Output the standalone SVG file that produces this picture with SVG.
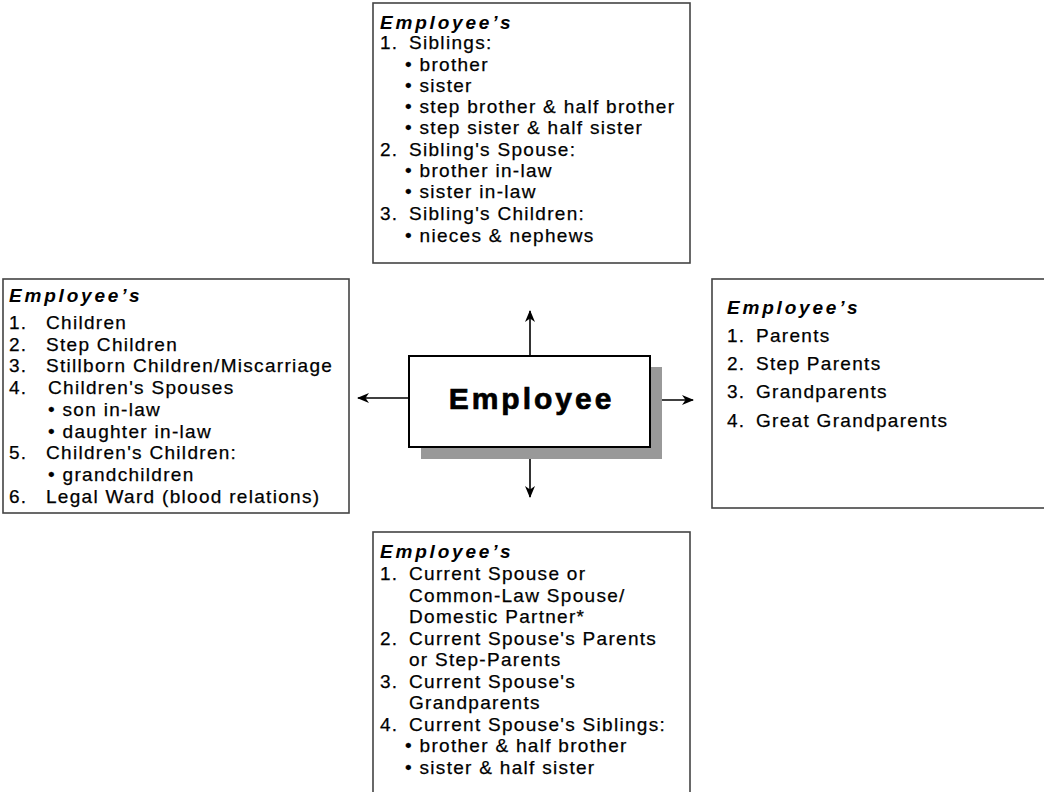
<svg xmlns="http://www.w3.org/2000/svg" width="1044" height="792" viewBox="0 0 1044 792">
<style>
.box{fill:#fff;stroke:#444;stroke-width:1.6}
.t{font-family:"Liberation Sans",Arial,sans-serif;font-size:19px;letter-spacing:1.3px;fill:#000;stroke:#000;stroke-width:0.25}
.h{font-family:"Liberation Sans",Arial,sans-serif;font-size:19px;font-weight:bold;font-style:italic;letter-spacing:2.8px;fill:#000}
.big{font-family:"Liberation Sans",Arial,sans-serif;font-size:30px;font-weight:bold;letter-spacing:3px;fill:#000;stroke:#000;stroke-width:0.7}
.c{stroke:#000;stroke-width:1.6;fill:none}
</style>
<defs>
<marker id="ah" viewBox="0 0 12 10" refX="11" refY="5" markerWidth="12" markerHeight="10" markerUnits="userSpaceOnUse" orient="auto">
<path d="M0,0 L12,5 L0,10 L3.5,5 Z" fill="#000"/>
</marker>
</defs>
<g id="connectors">
<line class="c" x1="530" y1="356" x2="530" y2="311" marker-end="url(#ah)"/>
<line class="c" x1="530" y1="447" x2="530" y2="497" marker-end="url(#ah)"/>
<line class="c" x1="409" y1="398" x2="358" y2="398" marker-end="url(#ah)"/>
<line class="c" x1="650" y1="400" x2="693" y2="400" marker-end="url(#ah)"/>
</g>
<g id="employee">
<rect x="421" y="367" width="241" height="92" fill="#999"/>
<rect x="409" y="356" width="241" height="91" fill="#fff" stroke="#000" stroke-width="2"/>
<text class="big" x="531.5" y="409" text-anchor="middle">Employee</text>
</g>
<g id="siblings">
<rect class="box" x="373" y="3" width="317" height="260"/>
<text class="h" x="380" y="29">Employee’s</text>
<text class="t" y="49"><tspan x="380">1.</tspan><tspan x="409">Siblings:</tspan></text>
<text class="t" x="405" y="71">• brother</text>
<text class="t" x="405" y="92">• sister</text>
<text class="t" x="405" y="113">• step brother &amp; half brother</text>
<text class="t" x="405" y="134">• step sister &amp; half sister</text>
<text class="t" y="156"><tspan x="380">2.</tspan><tspan x="409">Sibling's Spouse:</tspan></text>
<text class="t" x="405" y="177">• brother in-law</text>
<text class="t" x="405" y="198">• sister in-law</text>
<text class="t" y="220"><tspan x="380">3.</tspan><tspan x="409">Sibling's Children:</tspan></text>
<text class="t" x="405" y="242">• nieces &amp; nephews</text>
</g>
<g id="children">
<rect class="box" x="3" y="279" width="346" height="234"/>
<text class="h" x="9" y="302">Employee’s</text>
<text class="t" y="329"><tspan x="9">1.</tspan><tspan x="46">Children</tspan></text>
<text class="t" y="350.7"><tspan x="9">2.</tspan><tspan x="46">Step Children</tspan></text>
<text class="t" y="372.4"><tspan x="9">3.</tspan><tspan x="46">Stillborn Children/Miscarriage</tspan></text>
<text class="t" y="394.1"><tspan x="9">4.</tspan><tspan x="48">Children's Spouses</tspan></text>
<text class="t" x="48" y="415.8">• son in-law</text>
<text class="t" x="48" y="437.5">• daughter in-law</text>
<text class="t" y="459.2"><tspan x="9">5.</tspan><tspan x="46">Children's Children:</tspan></text>
<text class="t" x="48" y="480.9">• grandchildren</text>
<text class="t" y="502.6"><tspan x="9">6.</tspan><tspan x="46">Legal Ward (blood relations)</tspan></text>
</g>
<g id="parents">
<rect class="box" x="712" y="279" width="340" height="229"/>
<text class="h" x="727" y="314">Employee’s</text>
<text class="t" y="342"><tspan x="727">1.</tspan><tspan x="756">Parents</tspan></text>
<text class="t" y="370"><tspan x="727">2.</tspan><tspan x="756">Step Parents</tspan></text>
<text class="t" y="398"><tspan x="727">3.</tspan><tspan x="756">Grandparents</tspan></text>
<text class="t" y="427"><tspan x="727">4.</tspan><tspan x="756">Great Grandparents</tspan></text>
</g>
<g id="spouse">
<rect class="box" x="373" y="532" width="317" height="270"/>
<text class="h" x="380" y="558">Employee’s</text>
<text class="t" y="580"><tspan x="380">1.</tspan><tspan x="409">Current Spouse or</tspan></text>
<text class="t" x="409" y="601.5">Common-Law Spouse/</text>
<text class="t" x="409" y="623">Domestic Partner*</text>
<text class="t" y="644.5"><tspan x="380">2.</tspan><tspan x="409">Current Spouse's Parents</tspan></text>
<text class="t" x="409" y="666">or Step-Parents</text>
<text class="t" y="687.5"><tspan x="380">3.</tspan><tspan x="409">Current Spouse's</tspan></text>
<text class="t" x="409" y="709">Grandparents</text>
<text class="t" y="730.5"><tspan x="380">4.</tspan><tspan x="409">Current Spouse's Siblings:</tspan></text>
<text class="t" x="405" y="752">• brother &amp; half brother</text>
<text class="t" x="405" y="773.5">• sister &amp; half sister</text>
</g>
</svg>
